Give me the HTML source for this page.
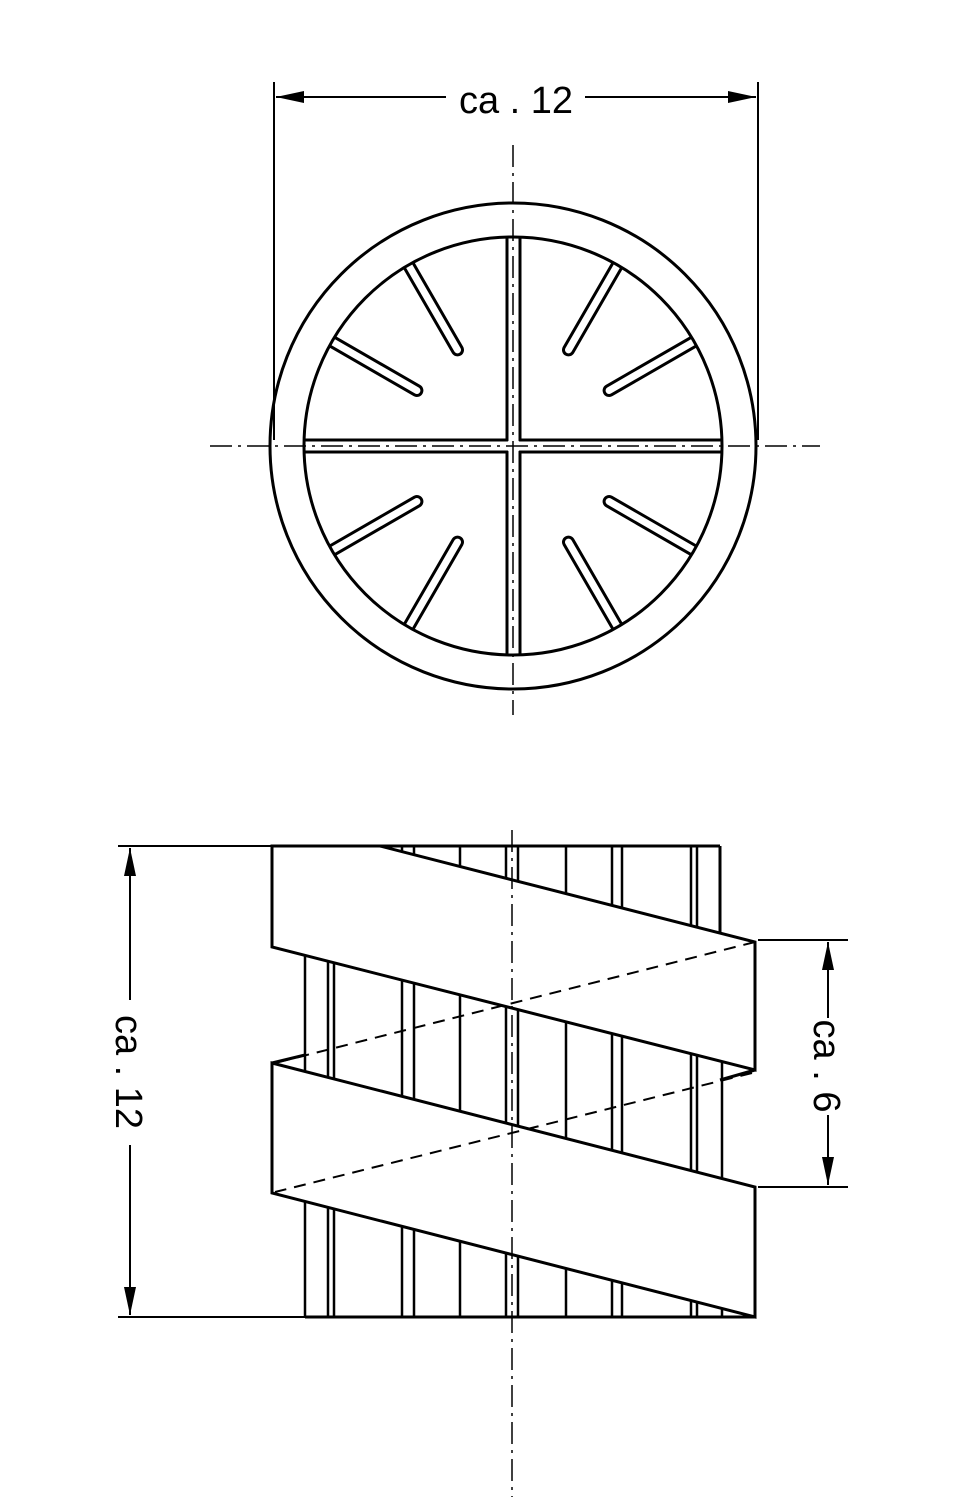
<!DOCTYPE html>
<html><head><meta charset="utf-8"><style>html,body{margin:0;padding:0;background:#fff}svg{display:block}</style></head>
<body>
<svg width="966" height="1497" viewBox="0 0 966 1497" xmlns="http://www.w3.org/2000/svg">
<defs>
<clipPath id="inner"><circle cx="513" cy="446" r="209"/></clipPath>
<clipPath id="g1"><polygon points="380,846 722,846 722,934"/></clipPath>
</defs>
<g fill="none" stroke="#000" stroke-width="3">
<circle cx="513" cy="446" r="243"/>
<g clip-path="url(#inner)" stroke-linecap="round">
<g>
<line x1="568.5" y1="349.9" x2="640" y2="226" stroke-width="13"/>
<line x1="609.1" y1="390.5" x2="733" y2="319" stroke-width="13"/>
<line x1="609.1" y1="501.5" x2="733" y2="573" stroke-width="13"/>
<line x1="568.5" y1="542.1" x2="640" y2="666" stroke-width="13"/>
<line x1="457.5" y1="542.1" x2="386" y2="666" stroke-width="13"/>
<line x1="416.9" y1="501.5" x2="293" y2="573" stroke-width="13"/>
<line x1="416.9" y1="390.5" x2="293" y2="319" stroke-width="13"/>
<line x1="457.5" y1="349.9" x2="386" y2="226" stroke-width="13"/>
</g>
<g stroke="#fff" stroke-width="7">
<line x1="568.5" y1="349.9" x2="640" y2="226"/>
<line x1="609.1" y1="390.5" x2="733" y2="319"/>
<line x1="609.1" y1="501.5" x2="733" y2="573"/>
<line x1="568.5" y1="542.1" x2="640" y2="666"/>
<line x1="457.5" y1="542.1" x2="386" y2="666"/>
<line x1="416.9" y1="501.5" x2="293" y2="573"/>
<line x1="416.9" y1="390.5" x2="293" y2="319"/>
<line x1="457.5" y1="349.9" x2="386" y2="226"/>
</g>
<line x1="507" y1="230" x2="507" y2="440"/><line x1="520" y1="230" x2="520" y2="440"/>
<line x1="507" y1="452" x2="507" y2="660"/><line x1="520" y1="452" x2="520" y2="660"/>
<line x1="300" y1="440" x2="507" y2="440"/><line x1="300" y1="452" x2="507" y2="452"/>
<line x1="520" y1="440" x2="730" y2="440"/><line x1="520" y1="452" x2="730" y2="452"/>
</g>
<circle cx="513" cy="446" r="209"/>
<g stroke-width="2">
<line x1="274" y1="82" x2="274" y2="440"/>
<line x1="758" y1="82" x2="758" y2="440"/>
<line x1="276" y1="97" x2="446" y2="97"/>
<line x1="585" y1="97" x2="756" y2="97"/>
</g>
<g stroke-width="1.5" stroke-dasharray="22,6,3,6">
<line x1="513" y1="145" x2="513" y2="715"/>
<line x1="210" y1="446" x2="820" y2="446"/>
</g>
<g stroke-width="2.5" id="vl">
<line x1="305" y1="846" x2="305" y2="1317"/>
<line x1="328" y1="846" x2="328" y2="1317"/>
<line x1="334" y1="846" x2="334" y2="1317"/>
<line x1="402" y1="846" x2="402" y2="1317"/>
<line x1="414" y1="846" x2="414" y2="1317"/>
<line x1="460" y1="846" x2="460" y2="1317"/>
<line x1="506" y1="846" x2="506" y2="1317"/>
<line x1="518" y1="846" x2="518" y2="1317"/>
<line x1="566" y1="846" x2="566" y2="1317"/>
<line x1="612" y1="846" x2="612" y2="1317"/>
<line x1="622" y1="846" x2="622" y2="1317"/>
<line x1="691" y1="846" x2="691" y2="1317"/>
<line x1="697" y1="846" x2="697" y2="1317"/>
<line x1="722" y1="846" x2="722" y2="1317"/>
</g>
</g>
<g fill="#fff" stroke="none">
<polygon points="270,846 380,846 755,942 755,1070 270,947"/>
<polygon points="270,1063 755,1187 755,1317 270,1193"/>
<polygon points="300,846 380,846 726,934 726,846 740,846 740,840 300,840"/>
</g>
<g fill="none" stroke="#000" stroke-width="3">
<g clip-path="url(#g1)" stroke-width="2.5">
<line x1="402" y1="846" x2="402" y2="940"/><line x1="414" y1="846" x2="414" y2="940"/>
<line x1="460" y1="846" x2="460" y2="940"/><line x1="506" y1="846" x2="506" y2="940"/>
<line x1="518" y1="846" x2="518" y2="940"/><line x1="566" y1="846" x2="566" y2="940"/>
<line x1="612" y1="846" x2="612" y2="940"/><line x1="622" y1="846" x2="622" y2="940"/>
<line x1="691" y1="846" x2="691" y2="940"/><line x1="697" y1="846" x2="697" y2="940"/>
<line x1="720" y1="846" x2="720" y2="940"/>
</g>
<line x1="272" y1="846" x2="720" y2="846"/>
<line x1="720" y1="846" x2="720" y2="934"/>
<polygon points="272,846 380,846 755,942 755,1070 272,947"/>
<polygon points="272,1063 755,1187 755,1317 272,1193"/>
<line x1="272" y1="1063" x2="305" y2="1055"/>
<line x1="720" y1="1080" x2="755" y2="1070"/>
<line x1="305" y1="1317" x2="755" y2="1317"/>
<g stroke-width="2" stroke-dasharray="12,8">
<line x1="755" y1="942" x2="275" y2="1063"/>
<line x1="752" y1="1073" x2="275" y2="1192"/>
</g>
<g stroke-width="1.5" stroke-dasharray="22,6,3,6">
<line x1="512" y1="830" x2="512" y2="1497"/>
</g>
<g stroke-width="2">
<line x1="118" y1="846" x2="272" y2="846"/>
<line x1="118" y1="1317" x2="305" y2="1317"/>
<line x1="130" y1="848" x2="130" y2="1000"/>
<line x1="130" y1="1145" x2="130" y2="1315"/>
<line x1="758" y1="940" x2="848" y2="940"/>
<line x1="758" y1="1187" x2="848" y2="1187"/>
<line x1="828" y1="942" x2="828" y2="1018"/>
<line x1="828" y1="1115" x2="828" y2="1185"/>
</g>
</g>
<g fill="#000">
<polygon points="276,97 304,91 304,103"/>
<polygon points="756,97 728,91 728,103"/>
<polygon points="130,848 124,876 136,876"/>
<polygon points="130,1315 124,1287 136,1287"/>
<polygon points="828,942 822,970 834,970"/>
<polygon points="828,1185 822,1157 834,1157"/>
</g>
<g font-family="Liberation Sans, sans-serif" font-size="38" fill="#000" text-anchor="middle">
<text x="516" y="113">ca . 12</text>
<text transform="translate(116,1072) rotate(90)">ca . 12</text>
<text transform="translate(814,1066) rotate(90)">ca . 6</text>
</g>
</svg>
</body></html>
